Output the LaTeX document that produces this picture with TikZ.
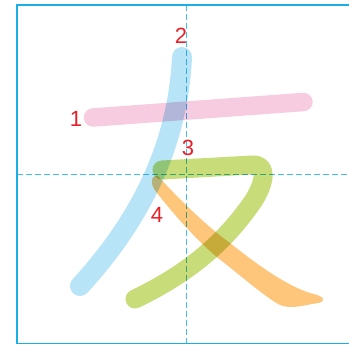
\documentclass[tikz,border=0pt]{standalone}
\usepackage{fontspec}
\setmainfont{Liberation Sans}
\definecolor{framec}{HTML}{1AAEE6}
\definecolor{dashc}{HTML}{40C0F0}
\definecolor{pinkc}{HTML}{F8CCE0}
\definecolor{bluec}{HTML}{B8E4F8}
\definecolor{greenc}{HTML}{C8DC7A}
\definecolor{orangec}{HTML}{FDC67A}
\definecolor{numc}{HTML}{E8202A}
\begin{document}
\begin{tikzpicture}[x=1pt,y=-1pt,
  guide/.style={dashc,line width=1.1pt,dash pattern=on 6pt off 3pt},
  strokeline/.style={line cap=round,line join=round,blend mode=multiply},
  num/.style={numc,font=\fontsize{22}{22}\selectfont,inner sep=0pt,anchor=center}]
\useasboundingbox (0,0) rectangle (349,347);
\clip (0,0) rectangle (349,347);
\fill[white] (0,0) rectangle (349,347);
% guides
\coordinate (vt) at (186.7,5);
\coordinate (vb) at (186.7,343);
\coordinate (hl) at (17,174.5);
\coordinate (hr) at (360,174.5);
\draw[guide] (vt) -- (vb);
\draw[guide] (hl) -- (hr);
% frame
\draw[framec,line width=1.8pt] (16.8,4.8) rectangle (370,343.5);
% stroke 1 (pink)
\draw[strokeline,pinkc,line width=18.5pt] (93,117.5) -- (303.5,102);
% stroke 2 (blue)
\draw[strokeline,bluec,line width=20pt] (182,57) .. controls (178,140) and (145,215) .. (80,286);
% stroke 3 (green)
\draw[strokeline,greenc,line width=19pt] (162,170) -- (252,165) .. controls (268,164) and (265,182) .. (254,200) .. controls (232,232) and (200,268) .. (135,299);
% stroke 4 (orange)
\fill[orangec,blend mode=multiply] (158,176)
  .. controls (175,195) and (205,225) .. (230,243)
  .. controls (255,263) and (285,285) .. (310,293)
  .. controls (318,295) and (324,297) .. (323,300)
  .. controls (322,303) and (318,303) .. (312,304)
  .. controls (302,306) and (290,309) .. (280,305)
  .. controls (265,297) and (240,275) .. (218,258)
  .. controls (200,243) and (180,222) .. (157,193)
  .. controls (150,185) and (150,175) .. (158,176) -- cycle;
% numbers
\node[num] (n1) at (76,119) {1};
\node[num] (n2) at (181,36) {2};
\node[num] (n3) at (188,148) {3};
\node[num] (n4) at (157,215) {4};
\end{tikzpicture}
\end{document}
